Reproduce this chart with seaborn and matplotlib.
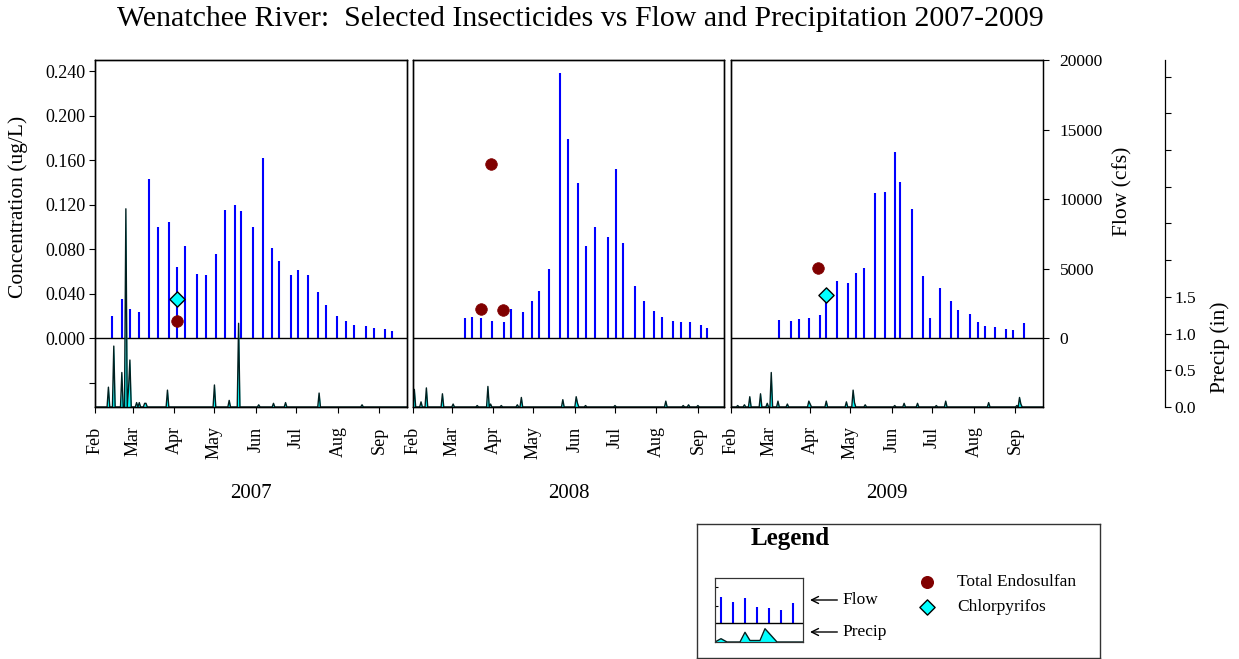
import pandas as pd
import numpy as np
import matplotlib
matplotlib.use("Agg")
import matplotlib.pyplot as plt
import matplotlib.dates as mdates
import seaborn as sns

years = [2007, 2008, 2009]

# flow (cfs) samples
flow_2007_dates = ["2007-02-14", "2007-02-21", "2007-02-27", "2007-03-06", "2007-03-13", "2007-03-20",
                   "2007-03-28", "2007-04-03", "2007-04-09", "2007-04-18", "2007-04-25", "2007-05-02",
                   "2007-05-09", "2007-05-16", "2007-05-21", "2007-05-30", "2007-06-06", "2007-06-13",
                   "2007-06-18", "2007-06-27", "2007-07-02", "2007-07-10", "2007-07-17", "2007-07-23",
                   "2007-07-31", "2007-08-07", "2007-08-13", "2007-08-22", "2007-08-28", "2007-09-05",
                   "2007-09-10"]
flow_2007_cfs = [1560, 2780, 2110, 1850, 11410, 8010, 8340, 5130, 6590, 4600, 4510, 6060, 9200, 9540,
                 9130, 8010, 12950, 6470, 5560, 4550, 4910, 4510, 3330, 2350, 1560, 1200, 910, 840, 720,
                 620, 530]

flow_2008_dates = ["2008-03-11", "2008-03-16", "2008-03-23", "2008-03-31", "2008-04-09", "2008-04-14",
                   "2008-04-23", "2008-04-30", "2008-05-05", "2008-05-13", "2008-05-21", "2008-05-27",
                   "2008-06-03", "2008-06-09", "2008-06-16", "2008-06-26", "2008-07-02", "2008-07-07",
                   "2008-07-16", "2008-07-23", "2008-07-30", "2008-08-05", "2008-08-13", "2008-08-19",
                   "2008-08-26", "2008-09-03", "2008-09-08"]
flow_2008_cfs = [1410, 1490, 1410, 1200, 1130, 2060, 1890, 2640, 3380, 4940, 19080, 14290, 11120, 6590,
                 7960, 7240, 12130, 6860, 3720, 2660, 1970, 1490, 1250, 1180, 1130, 910, 720]

flow_2009_dates = ["2009-03-09", "2009-03-18", "2009-03-24", "2009-03-31", "2009-04-08", "2009-04-13",
                   "2009-04-21", "2009-04-29", "2009-05-05", "2009-05-11", "2009-05-19", "2009-05-27",
                   "2009-06-03", "2009-06-07", "2009-06-16", "2009-06-24", "2009-06-29", "2009-07-07",
                   "2009-07-15", "2009-07-20", "2009-07-29", "2009-08-04", "2009-08-09", "2009-08-17",
                   "2009-08-25", "2009-08-30", "2009-09-07"]
flow_2009_cfs = [1320, 1200, 1340, 1410, 1630, 2590, 4080, 3960, 4700, 5060, 10400, 10500, 13400, 11190,
                 9300, 4480, 1460, 3570, 2640, 2040, 1700, 1150, 890, 770, 650, 550, 1100]

# daily precip (in), only the days with rain
precip_2007_dates = ["2007-02-11", "2007-02-15", "2007-02-21", "2007-02-24", "2007-02-26", "2007-02-27",
                     "2007-03-04", "2007-03-06", "2007-03-10", "2007-03-11", "2007-03-27", "2007-05-01",
                     "2007-05-12", "2007-05-19", "2007-06-03", "2007-06-14", "2007-06-23", "2007-07-18",
                     "2007-08-19"]
precip_2007_in = [0.27, 0.83, 0.47, 2.70, 0.25, 0.64, 0.06, 0.06, 0.05, 0.05, 0.23, 0.30,
                  0.09, 1.14, 0.03, 0.05, 0.06, 0.19, 0.03]

precip_2008_dates = ["2008-02-02", "2008-02-07", "2008-02-11", "2008-02-23", "2008-03-02", "2008-03-20",
                     "2008-03-28", "2008-03-30", "2008-04-07", "2008-04-19", "2008-04-22", "2008-05-23",
                     "2008-06-02", "2008-06-03", "2008-06-09", "2008-07-01", "2008-08-08", "2008-08-21",
                     "2008-08-25", "2008-09-01"]
precip_2008_in = [0.24, 0.07, 0.26, 0.18, 0.04, 0.02, 0.28, 0.04, 0.02, 0.03, 0.13, 0.10,
                  0.14, 0.05, 0.02, 0.02, 0.08, 0.02, 0.03, 0.02]

precip_2009_dates = ["2009-02-06", "2009-02-11", "2009-02-15", "2009-02-23", "2009-02-28", "2009-03-03",
                     "2009-03-08", "2009-03-15", "2009-03-31", "2009-04-01", "2009-04-13", "2009-04-28",
                     "2009-05-03", "2009-05-04", "2009-05-12", "2009-06-03", "2009-06-10", "2009-06-20",
                     "2009-07-04", "2009-07-11", "2009-08-12", "2009-09-02", "2009-09-04", "2009-09-05"]
precip_2009_in = [0.02, 0.03, 0.14, 0.18, 0.05, 0.47, 0.08, 0.04, 0.08, 0.04, 0.08, 0.07,
                  0.23, 0.06, 0.03, 0.02, 0.05, 0.05, 0.02, 0.08, 0.06, 0.02, 0.13, 0.04]

# concentrations (ug/L)
endosulfan_dates = ["2007-04-03", "2008-03-23", "2008-03-30", "2008-04-08", "2009-04-07"]
endosulfan_ugL = [0.015, 0.026, 0.156, 0.025, 0.063]
chlorpyrifos_dates = ["2007-04-03", "2009-04-13"]
chlorpyrifos_ugL = [0.035, 0.039]

# legend sample graphic
mini_flow_h = [26, 21, 25, 16, 15, 13, 20]
mini_precip_h = [0, 3.3, 0, 0, 9.7, 1.5, 1.5, 13.3, 0, 0]

flows = {2007: (flow_2007_dates, flow_2007_cfs), 2008: (flow_2008_dates, flow_2008_cfs),
         2009: (flow_2009_dates, flow_2009_cfs)}
precips = {2007: (precip_2007_dates, precip_2007_in), 2008: (precip_2008_dates, precip_2008_in),
           2009: (precip_2009_dates, precip_2009_in)}
endo = pd.DataFrame({"date": pd.to_datetime(endosulfan_dates), "conc": endosulfan_ugL})
chlor = pd.DataFrame({"date": pd.to_datetime(chlorpyrifos_dates), "conc": chlorpyrifos_ugL})

sns.set_style("ticks")
plt.rcParams["font.family"] = ["Liberation Serif", "DejaVu Serif"]
plt.rcParams["axes.edgecolor"] = "black"
plt.rcParams["axes.linewidth"] = 0.9
for k in ["text.color", "axes.labelcolor", "xtick.color", "ytick.color"]:
    plt.rcParams[k] = "black"

W, H = 1239, 659
fig = plt.figure(figsize=(W / 100, H / 100), dpi=100)


def px_rect(x0, y0, x1, y1):
    return [x0 / W, 1 - y1 / H, (x1 - x0) / W, (y1 - y0) / H]


panels = [(95, 407), (413, 724), (731, 1043)]

for i, yr in enumerate(years):
    x0, x1 = panels[i]
    ax = fig.add_axes(px_rect(x0, 60, x1, 407))
    ax_p = ax.twinx()
    ax_c = ax.twinx()
    start = pd.Timestamp(f"{yr}-02-01")
    end = start + pd.Timedelta(days=232.5)

    # flow bars
    fd, fv = flows[yr]
    ax.vlines(pd.to_datetime(fd), 0, fv, color="#0000ff", lw=1.5)
    ax.axhline(0, color="black", lw=1)
    ax.set_ylim(-4964, 20000)

    # precip
    days = pd.date_range(start, start + pd.Timedelta(days=234), freq="D")
    pr = pd.Series(0.0, index=days)
    pdates, pvals = precips[yr]
    pr.loc[pd.to_datetime(pdates)] = pvals
    ax_p.fill_between(pr.index, 0, pr.values, color="cyan", lw=0)
    sns.lineplot(x=pr.index, y=pr.values, ax=ax_p, color="#002020", lw=1)
    ax_p.set_ylim(0, 4.727)

    # insecticides
    e = endo[endo.date.dt.year == yr]
    c = chlor[chlor.date.dt.year == yr]
    if len(e):
        sns.scatterplot(data=e, x="date", y="conc", ax=ax_c, marker="o", s=70,
                        color="#800000", edgecolor="#800000", linewidth=0.5, zorder=5)
    if len(c):
        sns.scatterplot(data=c, x="date", y="conc", ax=ax_c, marker="D", s=60,
                        color="cyan", edgecolor="black", linewidth=1, zorder=6)
    ax_c.set_ylim(-0.062, 0.2499)
    ax.set_xlim(start, end)

    for a in (ax, ax_p, ax_c):
        a.set_xlabel("")
        a.set_ylabel("")

    ax.xaxis.set_major_locator(mdates.MonthLocator())
    ax.xaxis.set_major_formatter(mdates.DateFormatter("%b"))
    ax.tick_params(axis="x", direction="out", length=4, pad=10, labelsize=13, labelrotation=90)

    ax.tick_params(axis="y", left=False, right=False, labelleft=False, labelright=False)
    ax_p.tick_params(axis="y", left=False, right=False, labelleft=False, labelright=False)
    ax_c.tick_params(axis="y", left=False, right=False, labelleft=False, labelright=False)

    if i == 0:
        ax_c.yaxis.tick_left()
        ticks = [-0.04, 0, 0.04, 0.08, 0.12, 0.16, 0.20, 0.24]
        ax_c.set_yticks(ticks)
        ax_c.set_yticklabels([""] + [f"{t:.3f}" for t in ticks[1:]])
        ax_c.tick_params(axis="y", left=True, labelleft=True, direction="out", length=4,
                         labelsize=13, pad=3)
        ax_c.yaxis.set_label_position("left")
        ax_c.set_ylabel("Concentration (ug/L)", fontsize=15.5)
        ax_c.yaxis.set_label_coords(-0.215, 0.576)
    else:
        ax_c.set_yticks([])
    if i == 2:
        ax.yaxis.tick_right()
        ax.set_yticks([0, 5000, 10000, 15000, 20000])
        ax.set_yticklabels(["0", "5000", "10000", "15000", "20000"])
        ax.tick_params(axis="y", right=True, labelright=True, direction="out", length=4,
                       labelsize=12.5, pad=8)
        ax.yaxis.set_label_position("right")
        ax.set_ylabel("Flow (cfs)", fontsize=15.5)
        ax.yaxis.set_label_coords(1.224, 0.622)

        ax_p.spines["right"].set_position(("axes", 1.391))
        pt = np.arange(0, 4.51, 0.5)
        ax_p.set_yticks(pt)
        ax_p.set_yticklabels([f"{t:.1f}" if t <= 1.5 else "" for t in pt])
        ax_p.tick_params(axis="y", right=True, labelright=True, direction="out", length=4,
                         labelsize=12.5, pad=3)
        ax_p.set_ylabel("Precip (in)", fontsize=15.5)
        ax_p.yaxis.set_label_coords(1.535, 0.173)

    fig.text((x0 + x1) / 2 / W, 1 - 493 / H, str(yr), ha="center", va="center", fontsize=15)

fig.text(580 / W, 1 - 19 / H,
         "Wenatchee River:  Selected Insecticides vs Flow and Precipitation 2007-2009",
         ha="center", va="center", fontsize=21.5)

# legend box
leg = fig.add_axes(px_rect(697, 524, 1100, 658))
leg.set_xlim(697, 1100)
leg.set_ylim(658, 524)
leg.set_xticks([])
leg.set_yticks([])
for s in leg.spines.values():
    s.set_color("#333333")
    s.set_linewidth(1)
leg.text(790, 539, "Legend", fontsize=18, fontweight="bold", ha="center", va="center")
leg.scatter([927], [582], s=70, marker="o", color="#800000")
leg.scatter([927], [607], s=60, marker="D", color="cyan", edgecolor="black", linewidth=1)
leg.text(957, 582, "Total Endosulfan", fontsize=12.5, va="center")
leg.text(957, 607, "Chlorpyrifos", fontsize=12.5, va="center")
for lab, yy in [("Flow", 600), ("Precip", 632)]:
    leg.annotate(lab, xy=(810, yy), xytext=(842, yy), va="center", ha="left", fontsize=12.5,
                 arrowprops=dict(arrowstyle="->", color="black", lw=1, shrinkA=1, shrinkB=0))

mini = fig.add_axes(px_rect(715, 578, 803, 642))
mini_p = mini.twinx()
mini_x = np.arange(len(mini_flow_h)) * 12 + 6
mini.vlines(mini_x, 0, mini_flow_h, color="#0000ff", lw=1.5)
mini.axhline(0, color="black", lw=1)
mini.set_xlim(0, 88)
mini.set_ylim(-19, 45)
mini_px = [0, 6, 12, 25, 30, 35, 45, 50, 62, 88]
mini_p.fill_between(mini_px, 0, mini_precip_h, color="cyan", lw=0)
mini_p.plot(mini_px, mini_precip_h, color="#002020", lw=1)
mini_p.set_ylim(0, 64)
mini.set_yticks([17, 36])
mini.tick_params(axis="y", direction="in", length=2, labelleft=False)
mini.set_xticks([])
mini_p.set_yticks([])
for a in (mini, mini_p):
    for s in a.spines.values():
        s.set_color("#333333")
        s.set_linewidth(0.8)

fig.savefig("out.png", dpi=100)
